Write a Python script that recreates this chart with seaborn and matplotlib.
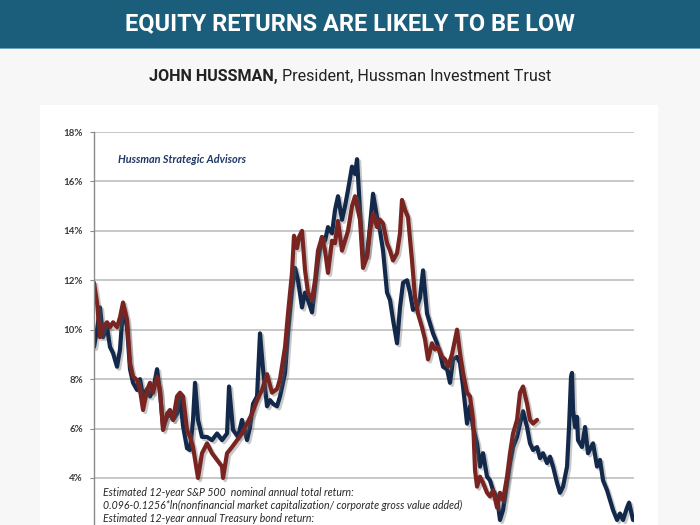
import matplotlib
matplotlib.use("Agg")
import numpy as np
import pandas as pd
import seaborn as sns
import matplotlib.pyplot as plt
import matplotlib.patheffects as pe
from matplotlib.patches import Rectangle
from matplotlib.ticker import FuncFormatter

# ---------------- data ----------------
est_years = [1949.50, 1949.88, 1950.25, 1950.63, 1951.13, 1951.50, 1951.88, 1952.38, 1952.75, 1953.13,
             1953.63, 1954.00, 1954.38, 1954.88, 1955.25, 1955.63, 1956.13, 1956.50, 1956.88, 1957.38,
             1957.75, 1958.13, 1958.63, 1959.00, 1959.38, 1959.88, 1960.25, 1960.63, 1961.13, 1961.50,
             1961.88, 1962.13, 1962.50, 1963.00, 1963.63, 1964.25, 1964.88, 1965.50, 1966.13, 1966.38,
             1966.88, 1967.50, 1968.00, 1968.63, 1969.00, 1969.38, 1969.88, 1970.25, 1970.63, 1971.13,
             1971.50, 1971.88, 1972.38, 1972.75, 1973.38, 1973.75, 1974.25, 1974.63, 1975.00, 1975.50,
             1975.88, 1976.25, 1976.75, 1977.13, 1977.50, 1978.00, 1978.38, 1978.75, 1979.25, 1979.63,
             1980.00, 1980.50, 1980.88, 1981.25, 1981.75, 1982.13, 1982.38, 1982.75, 1983.13, 1983.63,
             1984.00, 1984.38, 1984.88, 1985.25, 1985.63, 1986.13, 1986.50, 1986.88, 1987.38, 1987.75,
             1988.13, 1988.63, 1989.00, 1989.38, 1989.88, 1990.25, 1990.63, 1991.13, 1991.50, 1991.88,
             1992.38, 1992.75, 1993.13, 1993.63, 1994.00, 1994.38, 1994.88, 1995.25, 1995.63, 1996.13,
             1996.50, 1996.88, 1997.38, 1997.75, 1998.13, 1998.63, 1999.00, 1999.38, 1999.88, 2000.25,
             2000.63, 2001.13, 2001.50, 2001.88, 2002.38, 2002.75, 2003.13, 2003.63, 2004.00, 2004.38,
             2004.88, 2005.25, 2005.63, 2006.13, 2006.50, 2006.88, 2007.38, 2007.75, 2008.13, 2008.63,
             2008.88, 2009.13, 2009.25, 2009.38, 2009.63, 2009.88, 2010.00, 2010.50, 2010.88, 2011.25,
             2011.88, 2012.38, 2012.75, 2013.13, 2013.63, 2014.00, 2014.38, 2014.88, 2015.25, 2015.63,
             2016.13, 2016.38, 2016.88]
est_return = [9.3, 10.0, 10.9, 9.7, 10.1, 9.3, 9.05, 8.5, 9.2, 10.9,
              10.1, 8.4, 7.85, 7.56, 8.0, 7.3, 7.6, 7.3, 7.56, 8.4,
              7.45, 6.06, 6.47, 6.6, 6.35, 6.6, 7.3, 6.1, 5.2, 5.13,
              6.35, 7.85, 6.35, 5.66, 5.66, 5.53, 5.8, 5.53, 5.8, 7.7,
              5.94, 5.66, 6.35, 5.53, 6.06, 7.0, 7.3, 9.85, 8.4, 6.9,
              7.15, 7.0, 6.9, 7.3, 8.25, 9.9, 11.6, 12.5, 12.0, 10.9,
              11.5, 11.2, 10.7, 11.75, 12.8, 13.75, 13.6, 14.15, 13.9, 14.85,
              15.4, 14.45, 15.0, 15.65, 16.6, 16.3, 16.9, 14.8, 12.95, 13.0,
              14.2, 15.5, 14.55, 14.0, 13.2, 11.5, 11.2, 10.4, 9.45, 10.9,
              11.9, 12.0, 11.5, 10.8, 10.9, 11.3, 12.4, 10.65, 10.25, 9.85,
              9.45, 9.05, 8.5, 8.4, 7.85, 8.8, 8.9, 8.65, 7.7, 6.2,
              6.9, 6.06, 5.4, 4.46, 5.0, 4.05, 3.9, 3.5, 3.2, 2.3,
              2.7, 3.8, 4.6, 5.25, 5.66, 6.2, 6.7, 6.06, 5.4, 5.13,
              5.25, 4.8, 5.0, 4.6, 4.86, 4.46, 3.8, 3.4, 3.65, 4.46,
              6.06, 8.1, 8.25, 6.75, 6.06, 6.47, 5.53, 5.25, 6.06, 5.0,
              5.4, 4.46, 4.73, 3.9, 3.5, 3.1, 2.7, 2.3, 2.56, 2.3,
              2.8, 3.0, 2.3]

act_years = [1949.50, 1949.88, 1950.25, 1950.63, 1951.13, 1951.50, 1951.88, 1952.38, 1952.75, 1953.13,
             1953.63, 1954.00, 1954.38, 1954.88, 1955.25, 1955.63, 1956.13, 1956.50, 1956.88, 1957.38,
             1957.75, 1958.13, 1958.63, 1959.00, 1959.38, 1959.88, 1960.25, 1960.63, 1961.13, 1961.50,
             1961.88, 1962.50, 1963.00, 1963.63, 1964.25, 1964.88, 1965.50, 1965.63, 1966.13, 1966.75,
             1967.38, 1968.00, 1968.63, 1969.25, 1969.88, 1970.50, 1971.13, 1971.75, 1972.38, 1972.75,
             1973.38, 1973.75, 1974.25, 1974.50, 1974.88, 1975.13, 1975.50, 1975.88, 1976.25, 1976.75,
             1977.13, 1977.50, 1978.00, 1978.38, 1978.75, 1979.25, 1979.63, 1980.00, 1980.50, 1980.88,
             1981.25, 1981.75, 1982.13, 1982.38, 1982.75, 1983.13, 1983.63, 1984.00, 1984.38, 1984.88,
             1985.25, 1985.63, 1986.13, 1986.50, 1986.88, 1987.38, 1987.75, 1988.00, 1988.38, 1988.75,
             1989.25, 1989.63, 1990.00, 1990.50, 1990.88, 1991.25, 1991.75, 1992.13, 1992.50, 1993.00,
             1993.38, 1993.75, 1994.25, 1994.63, 1994.88, 1995.25, 1995.63, 1996.13, 1996.50, 1996.88,
             1997.13, 1997.38, 1997.75, 1998.13, 1998.63, 1999.00, 1999.38, 1999.88, 2000.25, 2000.63,
             2001.13, 2001.50, 2001.88, 2002.38, 2002.75, 2003.13, 2003.63, 2004.00, 2004.38, 2004.88]
act_return = [11.9, 11.1, 9.7, 10.1, 10.3, 10.1, 10.3, 10.1, 10.5, 11.1,
              10.4, 8.65, 8.1, 7.96, 7.56, 6.75, 7.56, 7.85, 7.45, 8.1,
              7.56, 5.94, 6.6, 6.75, 6.35, 7.3, 7.45, 7.3, 5.94, 5.66,
              5.25, 4.0, 5.0, 5.4, 5.0, 4.73, 4.46, 4.0, 5.0, 5.25,
              5.53, 5.8, 6.2, 6.6, 7.15, 7.56, 8.2, 7.45, 7.6, 8.0,
              9.3, 10.65, 12.3, 13.8, 13.3, 13.75, 14.0, 12.4, 11.5, 11.2,
              12.0, 13.2, 13.75, 13.2, 12.3, 13.6, 13.5, 14.4, 13.2, 13.6,
              14.0, 15.0, 15.4, 15.0, 14.45, 12.5, 12.95, 14.0, 14.7, 14.15,
              14.45, 14.3, 13.5, 13.2, 12.8, 13.1, 13.9, 15.25, 14.85, 14.55,
              12.8, 11.3, 10.65, 10.1, 9.6, 8.8, 9.45, 9.2, 9.3, 8.9,
              8.8, 8.5, 9.0, 9.6, 10.0, 9.05, 8.25, 7.45, 7.3, 6.35,
              4.3, 3.65, 4.05, 3.8, 3.4, 3.25, 3.5, 2.8, 3.4, 3.1,
              4.05, 5.0, 5.8, 6.35, 7.45, 7.7, 7.0, 6.35, 6.2, 6.35]

y_ticks = [4, 6, 8, 10, 12, 14, 16, 18]
series_names = ["Estimated", "Actual"]
series_colors = ["#13294b", "#7a2421"]

title_text = "EQUITY RETURNS ARE LIKELY TO BE LOW"
sub_bold = "JOHN HUSSMAN,"
sub_regular = " President, Hussman Investment Trust"
brand_text = "Hussman Strategic Advisors"
note_lines = ["Estimated 12-year S&P 500  nominal annual total return:",
              "0.096-0.1256*ln(nonfinancial market capitalization/ corporate gross value added)",
              "Estimated 12-year annual Treasury bond return:"]

df = pd.concat([
    pd.DataFrame({"year": est_years, "ret": est_return, "series": series_names[0]}),
    pd.DataFrame({"year": act_years, "ret": act_return, "series": series_names[1]}),
], ignore_index=True)

# ---------------- figure ----------------
sns.set_theme(style="white")
plt.rcParams["font.family"] = ["Lato", "DejaVu Sans"]

W, H = 700, 525
fig = plt.figure(figsize=(W / 100, H / 100), dpi=100)
fig.patch.set_facecolor("#f7f7f7")

fig.add_artist(Rectangle((0, 1 - 48 / H), 1, 48 / H, transform=fig.transFigure,
                         facecolor="#1a5e7c", edgecolor="none", zorder=-5))
fig.add_artist(Rectangle((0, 1 - 49 / H), 1, 1.2 / H, transform=fig.transFigure,
                         facecolor="#6fa3bd", edgecolor="none", zorder=-4))
fig.add_artist(Rectangle((40 / W, 0), 618 / W, (H - 105) / H, transform=fig.transFigure,
                         facecolor="white", edgecolor="none", zorder=-5))

top = 1 - 132 / H
ax_h = (18 * 24.71) / H
ax = fig.add_axes([94 / W, top - ax_h, 540 / W, ax_h])
ax.set_facecolor("none")

sns.lineplot(data=df, x="year", y="ret", hue="series", hue_order=series_names,
             palette=series_colors, linewidth=3.0, legend=False, estimator=None,
             sort=False, ax=ax)
for ln in ax.lines:
    ln.set_solid_joinstyle("round")
    ln.set_path_effects([pe.SimpleLineShadow(offset=(1.5, -1.5), shadow_color="#666666", alpha=0.35),
                         pe.Normal()])

ax.set_xlim(1949.5, 2017.0)
ax.set_ylim(0, 18)
ax.set_yticks(y_ticks)
ax.yaxis.set_major_formatter(FuncFormatter(lambda v, p: f"{int(v)}%"))
ax.set_xticks([])
ax.set_xlabel("")
ax.set_ylabel("")
ax.yaxis.grid(True, color="#c4c4c4", linewidth=1.3)
ax.set_axisbelow(True)
for s in ["top", "right", "bottom"]:
    ax.spines[s].set_visible(False)
ax.spines["left"].set_color("#8a8a8a")
ax.spines["left"].set_linewidth(1.0)
ax.tick_params(axis="y", left=True, length=3, width=0.8, color="#8a8a8a",
               labelsize=7, labelcolor="#3a3a3a", pad=5)
for t in ax.get_yticklabels():
    t.set_fontweight("bold")

# ---------------- texts ----------------
fig.text(0.5, 1 - 24 / H, title_text, color="white", fontsize=17, fontweight="bold",
         family=["Roboto", "DejaVu Sans"], ha="center", va="center")

r = fig.canvas.get_renderer()
tb = fig.text(0, 1 - 76 / H, sub_bold, color="#222222", fontsize=11.6, fontweight="bold",
              family=["Roboto", "DejaVu Sans"], ha="left", va="center")
tr = fig.text(0, 1 - 76 / H, sub_regular, color="#222222", fontsize=11.6,
              family=["Roboto", "DejaVu Sans"], ha="left", va="center")
wb = tb.get_window_extent(r).width
wr = tr.get_window_extent(r).width
x0 = (W - (wb + wr)) / 2
tb.set_x(x0 / W)
tr.set_x((x0 + wb) / W)

fig.text(118 / W, 1 - 159 / H, brand_text, color="#1f3864", fontsize=7.8, fontweight="bold",
         style="italic", ha="left", va="center")
for i, line in enumerate(note_lines):
    fig.text(103 / W, 1 - (492 + 13 * i) / H, line, color="#262626", fontsize=7.6,
             style="italic", ha="left", va="center")

fig.savefig("out.png", dpi=100)
